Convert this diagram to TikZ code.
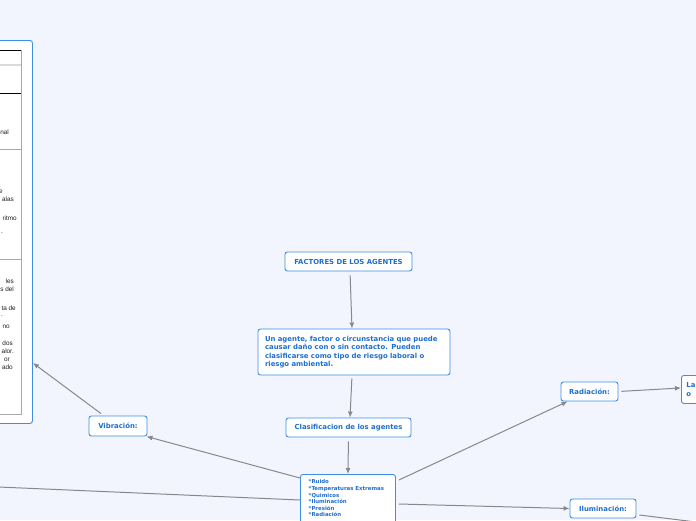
\documentclass[tikz,border=0pt]{standalone}
\usepackage{fontspec}
\setmainfont{DejaVu Sans}
\newfontfamily\tabfont{Liberation Sans}
\usetikzlibrary{arrows.meta}
\definecolor{bgc}{HTML}{F2F5FD}
\definecolor{bordc}{HTML}{3F8EE6}
\definecolor{txtc}{HTML}{1E6FCB}
\definecolor{linec}{HTML}{85888D}
\definecolor{tabtxt}{HTML}{1E1E1E}
\definecolor{tabgray}{HTML}{A8A8A8}
\definecolor{tabband}{HTML}{DADADA}
\begin{document}
\begin{tikzpicture}[x=1pt,y=-1pt,
  mbox/.style={draw=bordc, fill=white, rounded corners=2.5pt, line width=0.9pt,
    text=txtc, font=\bfseries\fontsize{6.9}{8.3}\selectfont, inner sep=0pt, align=center},
  conn/.style={draw=linec, line width=1pt, -{Latex[length=6pt,width=5pt]}},
  plainconn/.style={draw=linec, line width=1pt},
  tabt/.style={text=tabtxt, font=\tabfont\fontsize{6.4}{7}\selectfont, inner sep=0pt, anchor=base east}
]
\fill[bgc] (0,0) rectangle (696,520);
\useasboundingbox (0,0) rectangle (696,520);

% left box with table
\node[mbox, minimum width=42pt, minimum height=383pt, anchor=north west] (lb) at (-10,40) {};
\draw[tabgray, line width=0.6pt] (-5,50) rectangle (21,414);
\draw[tabband, line width=2pt] (-5,65) -- (21,65);
\draw[black, line width=0.7pt] (-5,50) -- (21,50);
\draw[black, line width=0.7pt] (-5,93) -- (21,93);
\draw[tabgray, line width=0.7pt] (-5,149) -- (21,149);
\draw[tabgray, line width=0.7pt] (-5,259) -- (21,259);
\node[tabt] (t1) at (9,134) {nal};
\node[tabt] (t2) at (3,193) {e};
\node[tabt] (t3) at (14,201) {alas};
\node[tabt] (t4) at (17,220) {ritmo};
\node[tabt] (t5) at (3,233) {.};
\node[tabt] (t6) at (14,283) {les};
\node[tabt] (t7) at (14,291) {s del};
\node[tabt] (t8) at (16,310) {ta de};
\node[tabt] (t9) at (3,316) {.};
\node[tabt] (t10) at (10,328) {no};
\node[tabt] (t11) at (13,345) {dos};
\node[tabt] (t12) at (14,353) {alor.};
\node[tabt] (t13) at (10,361) {or};
\node[tabt] (t14) at (13,369) {ado};

% main nodes
\node[mbox, minimum width=127pt, minimum height=19pt] (fac) at (348.5,261.5) {FACTORES DE LOS AGENTES};
\node[mbox, minimum width=192pt, minimum height=46pt, text width=178pt, align=left] (big) at (354,352)
  {Un agente, factor o circunstancia que puede\\causar daño con o sin contacto. Pueden\\clasificarse como tipo de riesgo laboral o\\riesgo ambiental.};
\node[mbox, minimum width=125pt, minimum height=19pt] (clas) at (348.5,427.5) {Clasificacion de los agentes};
\node[mbox, minimum width=95pt, minimum height=60pt, anchor=north west] (bot) at (300,474) {};
\node[anchor=north west, inner sep=0pt, align=left, text=txtc, font=\bfseries\fontsize{5.4}{6.6}\selectfont] (bottext) at (308.5,479.5)
  {*Ruido\\*Temperaturas Extremas\\*Quimicos\\*Iluminación\\*Presión\\*Radiación};
\node[mbox, minimum width=58pt, minimum height=20pt] (vib) at (118,426) {Vibración:};
\node[mbox, minimum width=57pt, minimum height=19pt] (rad) at (589.5,391.5) {Radiación:};
\node[mbox, minimum width=66pt, minimum height=19pt] (ilu) at (603,508.5) {Iluminación:};
\node[mbox, minimum width=40pt, minimum height=28pt, anchor=north west, align=left, text width=30pt] (la) at (681,375) {La\\o};

\coordinate (offL) at (-20,486.2);
\coordinate (offR) at (712,524);

% connectors
\draw[conn, shorten <=4pt] ([xshift=1.5pt]fac.south) -- ([xshift=-2pt]big.north);
\draw[conn, shorten <=3pt] ([xshift=-2pt]big.south) -- ([xshift=1.5pt]clas.north);
\draw[conn, shorten <=4pt] (clas.south) -- (bot.north);
\draw[conn] ([yshift=-4pt]bot.north west) -- ([xshift=-1pt]vib.south east);
\draw[conn] ([xshift=-17pt,yshift=2pt]vib.north) -- ([yshift=-131pt]lb.east);
\draw[conn] ([xshift=3pt,yshift=-6pt]bot.north east) -- ([xshift=7pt]rad.south west);
\draw[conn, shorten <=3pt] (rad.east) -- ([yshift=1.5pt]la.west);
\draw[conn] ([xshift=3pt,yshift=-30pt]bot.north east) -- (ilu.west);
\draw[plainconn] ([xshift=3pt,yshift=-6.5pt]ilu.east) -- (offR);
\draw[conn] ([yshift=-26pt]bot.north west) -- (offL);
\end{tikzpicture}
\end{document}
